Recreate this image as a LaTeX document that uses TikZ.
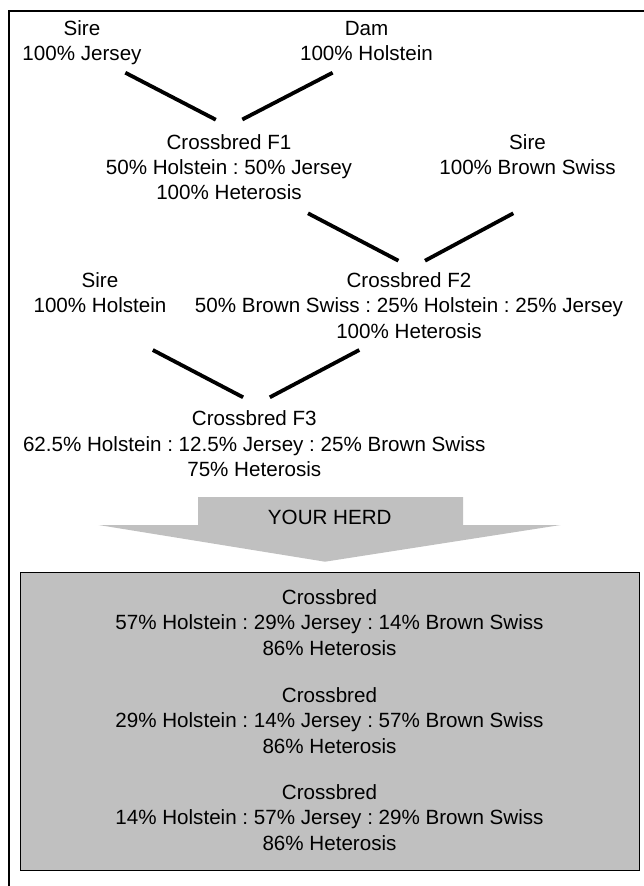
\documentclass[tikz,border=0pt]{standalone}
\usepackage{fontspec}
\setmainfont{Liberation Sans}
\definecolor{herdgray}{RGB}{192,192,192}
\frenchspacing
\begin{document}
\begin{tikzpicture}[x=1pt,y=-1pt,
  lbl/.style={align=center,inner sep=0pt,font=\fontsize{20.6}{25.3}\selectfont},
  link/.style={line width=3.8pt,black},
  frame/.style={line width=2pt,black},
  herdbox/.style={draw=black,line width=1.9pt,fill=herdgray},
  herdarrow/.style={fill=herdgray,draw=none}]
\useasboundingbox (0,0) rectangle (644,886);
% outer frame (cropped at right and bottom)
\draw[frame] (9,887) -- (9,11) -- (645,11);
% text nodes
\node[lbl] (sire1) at (82,42.7) {Sire\\100\% Jersey};
\node[lbl] (dam) at (366.5,40.8) {Dam\\100\% Holstein};
\node[lbl] (f1) at (229,167) {Crossbred F1\\50\% Holstein : 50\% Jersey\\100\% Heterosis};
\node[lbl] (sire2) at (527.5,154.5) {Sire\\100\% Brown Swiss};
\node[lbl] (sire3) at (100,292.8) {Sire\\100\% Holstein};
\node[lbl] (f2) at (409,305.4) {Crossbred F2\\50\% Brown Swiss : 25\% Holstein : 25\% Jersey\\100\% Heterosis};
\node[lbl] (f3) at (254.3,443.7) {Crossbred F3\\62.5\% Holstein : 12.5\% Jersey : 25\% Brown Swiss\\75\% Heterosis};
% connector end points
\coordinate (l1a) at (125.3,72.7);  \coordinate (l1b) at (215.8,119.7);
\coordinate (l2a) at (332.6,72.7);  \coordinate (l2b) at (242.3,119.5);
\coordinate (l3a) at (308,213.3);   \coordinate (l3b) at (398.4,260.7);
\coordinate (l4a) at (513.3,213.3); \coordinate (l4b) at (425,260.7);
\coordinate (l5a) at (152.8,350);   \coordinate (l5b) at (243.1,397.3);
\coordinate (l6a) at (359.3,350);   \coordinate (l6b) at (269.8,397.3);
\draw[link] (l1a) -- (l1b);
\draw[link] (l2a) -- (l2b);
\draw[link] (l3a) -- (l3b);
\draw[link] (l4a) -- (l4b);
\draw[link] (l5a) -- (l5b);
\draw[link] (l6a) -- (l6b);
% big arrow
\path[herdarrow] (198,497) -- (463,497) -- (463,525) -- (560.6,525) -- (325,561.7)
  -- (98.6,525) -- (198,525) -- cycle;
\node[lbl] (herd) at (329.8,517.6) {YOUR HERD};
% result box
\node[herdbox,minimum width=619pt,minimum height=298pt,inner sep=0pt] (box) at (330,721.5) {};
\node[lbl] (c1) at (329.5,622.4) {Crossbred\\57\% Holstein : 29\% Jersey : 14\% Brown Swiss\\86\% Heterosis};
\node[lbl] (c2) at (329.5,720.4) {Crossbred\\29\% Holstein : 14\% Jersey : 57\% Brown Swiss\\86\% Heterosis};
\node[lbl] (c3) at (329.5,817.4) {Crossbred\\14\% Holstein : 57\% Jersey : 29\% Brown Swiss\\86\% Heterosis};
\end{tikzpicture}
\end{document}
